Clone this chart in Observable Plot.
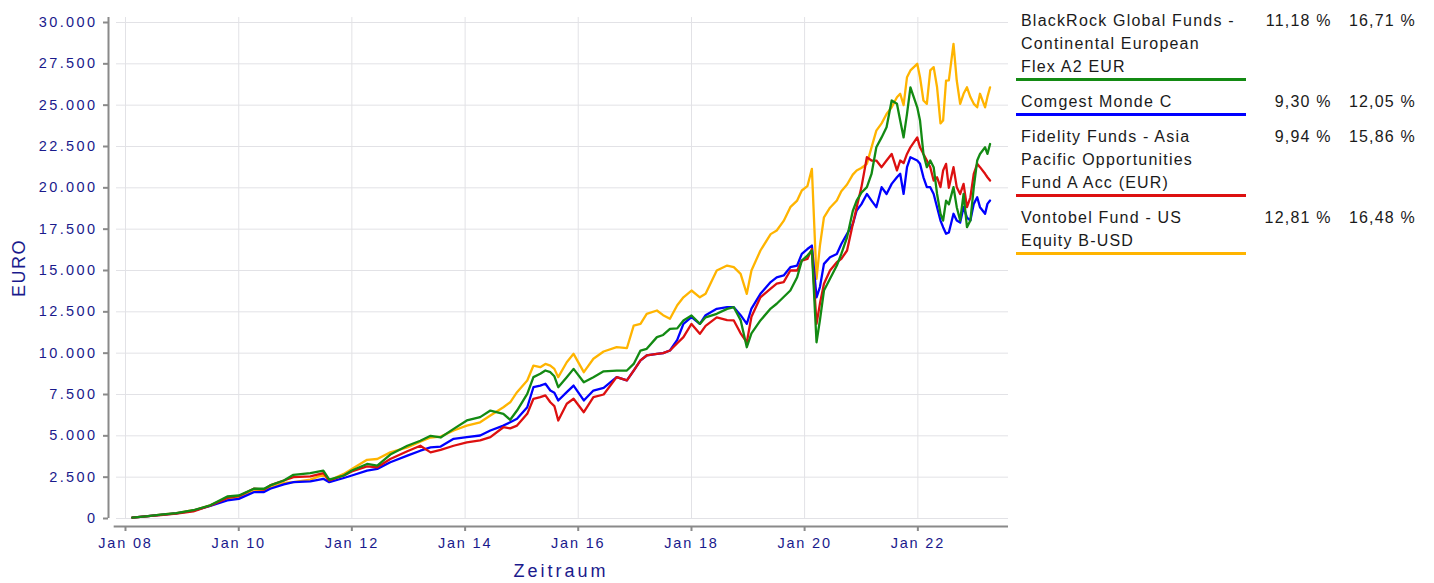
<!DOCTYPE html>
<html><head><meta charset="utf-8">
<script src="https://cdn.jsdelivr.net/npm/d3@7"></script>
<script src="https://cdn.jsdelivr.net/npm/@observablehq/plot@0.6"></script>
<style>
body{margin:0;background:#fff;font-family:"Liberation Sans",Arial,sans-serif;}
#wrap{position:relative;width:1434px;height:583px;overflow:hidden;background:#fff}
#chart{position:absolute;left:0;top:0}
#ylab{position:absolute;left:19px;top:268px;transform:translate(-50%,-50%) rotate(-90deg);font-size:18px;letter-spacing:1.5px;color:#1a1a8c;white-space:nowrap}
#xlab{position:absolute;left:561px;top:571px;transform:translate(-50%,-50%);font-size:18px;letter-spacing:3px;color:#1a1a8c;white-space:nowrap}
#legend{position:absolute;left:1016px;top:0;width:410px}
.blk{position:relative;padding-top:9px}
.nm{width:225px;padding-left:5px;font-size:16px;line-height:23px;letter-spacing:1.2px;color:#1a1a1a;white-space:pre-line;border-bottom:3px solid #000}
.p1,.p2{position:absolute;top:9px;font-size:16px;line-height:23px;letter-spacing:1.2px;color:#1a1a1a;white-space:nowrap}
</style></head><body><div id="wrap"><div id="chart"></div><div id="ylab">EURO</div><div id="xlab">Zeitraum</div><div id="legend"></div></div>
<script>
const dates=["2008-02-14","2008-05-26","2008-08-15","2008-11-24","2009-03-14","2009-07-01","2009-10-19","2010-01-01","2010-04-08","2010-06-13","2010-07-23","2010-10-19","2010-12-20","2011-04-08","2011-07-01","2011-08-08","2011-11-10","2012-01-01","2012-04-08","2012-06-13","2012-09-05","2012-12-24","2013-03-18","2013-05-23","2013-07-27","2013-10-19","2014-01-12","2014-04-08","2014-06-13","2014-09-05","2014-10-19","2014-12-02","2015-02-06","2015-03-18","2015-05-01",
"2015-06-03","2015-07-05","2015-07-31","2015-08-25","2015-10-19","2015-12-02","2016-02-06","2016-04-08","2016-06-13","2016-09-05","2016-11-10","2016-12-24","2017-02-06","2017-03-18","2017-05-23","2017-07-02","2017-08-15","2017-10-01","2017-11-10","2018-01-01","2018-02-24","2018-04-02","2018-06-13","2018-08-19","2018-10-01","2018-11-14","2018-12-24","2019-01-23","2019-03-22","2019-05-27","2019-07-05","2019-08-19","2019-10-01","2019-11-14","2019-12-14","2020-01-19","2020-02-17","2020-03-18","2020-04-09","2020-05-05","2020-06-13","2020-07-27","2020-08-25","2020-10-01","2020-11-07","2020-12-02","2021-01-01","2021-02-06","2021-03-08","2021-04-08","2021-05-12","2021-06-13","2021-07-16","2021-08-19","2021-09-09","2021-10-01","2021-10-23","2021-11-14","2021-12-28","2022-01-15","2022-02-06","2022-02-28","2022-03-22","2022-04-13","2022-05-05","2022-05-27","2022-06-13","2022-07-02","2022-07-20","2022-08-19","2022-09-09","2022-10-01","2022-10-23","2022-11-14","2022-12-06","2022-12-28","2023-01-19","2023-02-06","2023-03-11","2023-03-26","2023-04-12"];
const blackrock=[50,150,230,320,500,800,1330,1390,1800,1800,2000,2300,2640,2740,2900,2350,2600,2900,3300,3200,3870,4400,4700,5000,4900,5420,5930,6130,6530,6330,5970,6530,7540,8550,8750,
8950,8850,8600,7940,8550,9050,8240,8550,8900,8950,8950,9350,10160,10260,10970,11100,11470,11500,11980,12280,11770,12170,12380,12680,12780,12000,10360,11200,11980,12700,12990,13400,13790,14590,15600,15900,16210,10660,12000,13790,14500,15300,16000,17010,18600,19230,19700,20040,20840,22450,23050,23660,25280,25080,24070,23050,24470,26080,24870,24070,22050,21250,21650,21250,19630,18430,18020,19230,19000,20040,18830,18020,19630,17620,18020,20040,21650,22050,22450,22050,22650];
const comgest=[50,140,220,310,480,760,1090,1190,1590,1600,1800,2060,2200,2250,2400,2200,2450,2600,2900,3000,3400,3800,4100,4300,4350,4820,4920,5020,5320,5620,5820,6030,6730,7940,8040,
8150,7740,7600,7140,7640,8040,7140,7740,7900,8550,8350,8950,9560,9860,9960,10000,10160,10800,11770,12180,11770,12300,12680,12780,12780,12300,11770,12700,13590,14300,14590,14700,15200,15300,16010,16300,16510,13380,14000,15400,15800,16000,16600,17220,17800,18630,19000,19630,19230,18830,20040,19630,20240,20640,20850,19630,21250,21850,21650,21450,20640,20040,20040,19630,18830,18020,17620,17220,17300,18430,18020,17900,18830,18200,18020,19030,19430,18830,18430,19030,19230];
const fidelity=[50,140,200,290,430,780,1250,1350,1800,1750,2000,2300,2500,2550,2750,2300,2600,2850,3150,3100,3600,4070,4400,4000,4150,4400,4610,4720,4920,5520,5450,5620,6330,7240,7340,
7450,7030,6800,5930,6940,7240,6430,7340,7500,8550,8350,8950,9560,9860,9960,10000,10160,10600,10970,11770,11170,11650,12170,12000,11980,11200,10660,12200,13380,13900,14200,14300,15000,15000,15600,15700,16300,11770,13000,14200,15000,15500,15700,16210,17800,18830,20000,21850,21650,21650,21250,21650,22050,21050,21650,21500,22050,22450,23050,22450,22050,21650,21250,20440,20640,20040,21050,21450,20000,21250,20040,19630,20240,18830,19430,20850,21450,21250,20850,20640,20440];
const vontobel=[50,150,230,330,500,790,1200,1250,1650,1700,1850,2150,2200,2350,2650,2300,2700,3000,3550,3600,4000,4300,4650,4900,4950,5320,5620,5820,6230,6730,7030,7640,8350,9250,9150,
9350,9250,9050,8550,9450,9960,8850,9660,10100,10360,10300,11670,11770,12380,12580,12300,12080,12900,13380,13790,13380,13590,15000,15300,15200,14800,13590,15000,16210,17200,17420,18000,18830,19230,19840,20100,21150,14500,16500,18220,18800,19230,19800,20200,20800,21050,21200,21450,22450,23460,23900,24470,24870,25480,25690,25000,26690,27100,27500,26690,25280,25080,27100,27300,26080,23900,24070,26490,26500,28710,26490,25080,25690,26080,25490,25080,24870,25690,24870,25500,26080];

const fundNames=["BlackRock Global Funds -\nContinental European\nFlex A2 EUR","Comgest Monde C","Fidelity Funds - Asia\nPacific Opportunities\nFund A Acc (EUR)","Vontobel Fund - US\nEquity B-USD"];
const fundColors=["#138a13","#0000ff","#dd1010","#ffb400"];
const return1=["11,18 %","9,30 %","9,94 %","12,81 %"];
const return2=["16,71 %","12,05 %","15,86 %","16,48 %"];

const yTicks=[0,2500,5000,7500,10000,12500,15000,17500,20000,22500,25000,27500,30000];
const yTickLabels=["0","2.500","5.000","7.500","10.000","12.500","15.000","17.500","20.000","22.500","25.000","27.500","30.000"];
const xTicks=["2008-01-01","2010-01-01","2012-01-01","2014-01-01","2016-01-01","2018-01-01","2020-01-01","2022-01-01"];
const xTickLabels=["Jan 08","Jan 10","Jan 12","Jan 14","Jan 16","Jan 18","Jan 20","Jan 22"];

const parse=d3.utcParse("%Y-%m-%d");
const xTickDates=xTicks.map(parse);
const xDomain=[parse("2007-11-04"),parse("2023-08-09")];
const axisStart=parse("2007-10-20");

const seriesValues=[blackrock,comgest,fidelity,vontobel];
const drawOrder=[3,1,2,0];
const rows=[];
for(const k of drawOrder){
  dates.forEach((d,i)=>rows.push({date:parse(d),value:seriesValues[k][i],fund:fundNames[k]}));
}

const navy="#1a1a8c";
const chart=Plot.plot({
  width:1010,height:583,
  marginLeft:108,marginRight:2,marginTop:17,marginBottom:57,
  x:{type:"utc",domain:xDomain,range:[116,1008]},
  y:{domain:[0,30000],range:[518,22]},
  color:{domain:fundNames,range:fundColors},
  style:{fontFamily:"Liberation Sans, Arial, sans-serif",background:"transparent",overflow:"visible"},
  marks:[
    Plot.ruleY(yTicks,{x1:xDomain[0],x2:xDomain[1],stroke:"#e2e2e6",strokeWidth:1}),
    Plot.ruleX(xTickDates,{y1:0,y2:30300,stroke:"#e2e2e6",strokeWidth:1}),
    Plot.ruleX([xDomain[0]],{y1:0,y2:30300,dx:-8,stroke:"#8a8a8a",strokeWidth:2}),
    Plot.ruleY([0],{x1:axisStart,x2:xDomain[1],dy:8,stroke:"#8a8a8a",strokeWidth:2}),
    Plot.axisY(yTicks,{label:null,tickSize:5,tickPadding:6,fontSize:14.5,color:navy,tickFormat:d=>yTickLabels[yTicks.indexOf(d)]}),
    Plot.axisX(xTickDates,{label:null,tickSize:5,tickPadding:6,fontSize:14.5,color:navy,tickFormat:d=>xTickLabels[xTickDates.findIndex(t=>+t===+d)]}),
    Plot.line(rows,{x:"date",y:"value",z:"fund",stroke:"fund",strokeWidth:2.3})
  ]
});
document.getElementById("chart").appendChild(chart);
const svg=d3.select(chart);
svg.selectAll('g[aria-label="y-axis tick"], g[aria-label="x-axis tick"]').attr("stroke","#8a8a8a").attr("stroke-width",2);
svg.selectAll('g[aria-label="y-axis tick label"]').style("letter-spacing","2.4px");
svg.selectAll('g[aria-label="x-axis tick label"]').style("letter-spacing","1.8px");

const leg=d3.select("#legend");
fundNames.forEach((n,i)=>{
  const b=leg.append("div").attr("class","blk");
  b.append("div").attr("class","nm").style("border-bottom-color",fundColors[i]).text(n);
  b.append("div").attr("class","p1").style("right",(410-315.7)+"px").text(return1[i]);
  b.append("div").attr("class","p2").style("right","10px").text(return2[i]);
});
</script></body></html>
